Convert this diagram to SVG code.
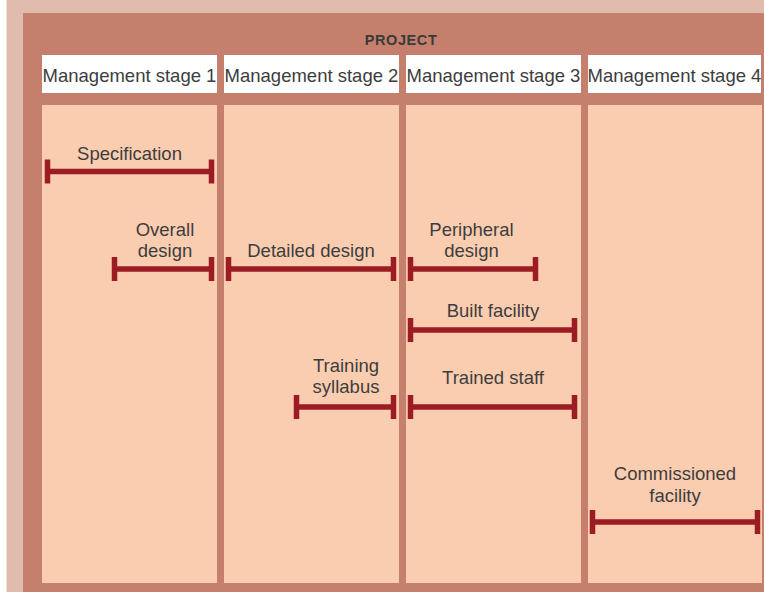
<svg xmlns="http://www.w3.org/2000/svg" width="764" height="592" viewBox="0 0 764 592">
<style>
.hdr{fill:#ffffff}
.panel{fill:#fbcdb0}
.lbl{font-family:"Liberation Sans",Arial,sans-serif;font-size:18.5px;fill:#3d3d3d;text-anchor:middle}
.title{font-family:"Liberation Sans",Arial,sans-serif;font-size:14.5px;font-weight:bold;letter-spacing:0.6px;fill:#3a3a3a;text-anchor:middle}
.bar{fill:none;stroke:#9b1c22;stroke-width:5.5}
</style>
<rect x="0" y="0" width="764" height="592" fill="#ffffff"/>
<rect x="6.5" y="0" width="757.5" height="592" fill="#e1bbad"/>
<g id="project">
<rect x="23" y="13" width="741" height="579" fill="#c4806c"/>
<text class="title" x="401" y="44.5">PROJECT</text>
</g>
<g id="stage1">
<rect class="hdr" x="42" y="55" width="175" height="38"/>
<rect class="panel" x="42" y="105" width="175" height="478"/>
<text class="lbl" x="129.5" y="81.5">Management stage 1</text>
</g>
<g id="stage2">
<rect class="hdr" x="224" y="55" width="175" height="38"/>
<rect class="panel" x="224" y="105" width="175" height="478"/>
<text class="lbl" x="311.5" y="81.5">Management stage 2</text>
</g>
<g id="stage3">
<rect class="hdr" x="406" y="55" width="175" height="38"/>
<rect class="panel" x="406" y="105" width="175" height="478"/>
<text class="lbl" x="493.5" y="81.5">Management stage 3</text>
</g>
<g id="stage4">
<rect class="hdr" x="588" y="55" width="173" height="38"/>
<rect class="panel" x="588" y="105" width="174" height="478"/>
<text class="lbl" x="674.5" y="81.5">Management stage 4</text>
</g>
<g id="specification">
<text class="lbl" x="129.5" y="160">Specification</text>
<path class="bar" d="M47.5 159.5V183.5M47.5 171.5H211.5M211.5 159.5V183.5"/>
</g>
<g id="overall-design">
<text class="lbl" x="165" y="236">Overall</text>
<text class="lbl" x="165" y="257">design</text>
<path class="bar" d="M114.5 257V281M114.5 269H211.5M211.5 257V281"/>
</g>
<g id="detailed-design">
<text class="lbl" x="311" y="257">Detailed design</text>
<path class="bar" d="M228.5 257V281M228.5 269H393.5M393.5 257V281"/>
</g>
<g id="peripheral-design">
<text class="lbl" x="471.5" y="236">Peripheral</text>
<text class="lbl" x="471.5" y="257">design</text>
<path class="bar" d="M410.5 257V281M410.5 269H535.5M535.5 257V281"/>
</g>
<g id="built-facility">
<text class="lbl" x="493" y="317">Built facility</text>
<path class="bar" d="M410.5 318V342M410.5 330H574.5M574.5 318V342"/>
</g>
<g id="training-syllabus">
<text class="lbl" x="346" y="372">Training</text>
<text class="lbl" x="346" y="393">syllabus</text>
<path class="bar" d="M296.5 395V419M296.5 407H393.5M393.5 395V419"/>
</g>
<g id="trained-staff">
<text class="lbl" x="493" y="384">Trained staff</text>
<path class="bar" d="M410.5 395V419M410.5 407H574.5M574.5 395V419"/>
</g>
<g id="commissioned-facility">
<text class="lbl" x="675" y="480">Commissioned</text>
<text class="lbl" x="675" y="502">facility</text>
<path class="bar" d="M592.5 510V534M592.5 522H757.5M757.5 510V534"/>
</g>
<g id="connectors"></g>
</svg>
